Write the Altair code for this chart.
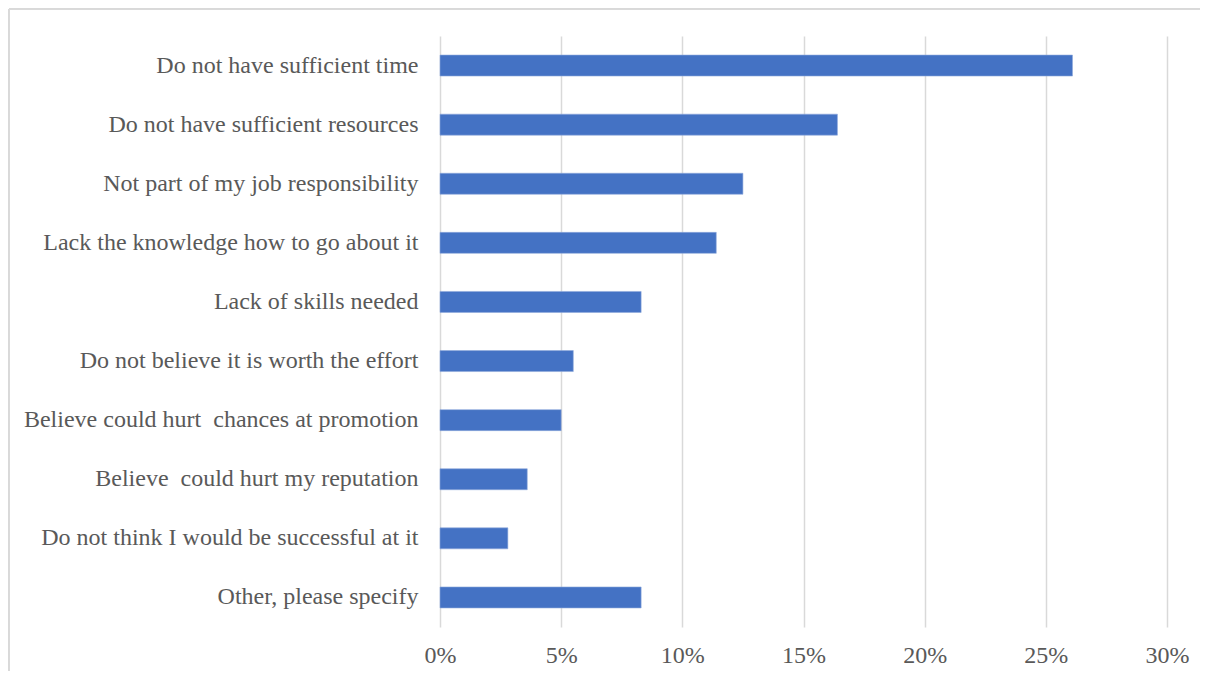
import altair as alt
import pandas as pd

categories = [
    "Do not have sufficient time",
    "Do not have sufficient resources",
    "Not part of my job responsibility",
    "Lack the knowledge how to go about it",
    "Lack of skills needed",
    "Do not believe it is worth the effort",
    "Believe could hurt\u00a0 chances at promotion",
    "Believe\u00a0 could hurt my reputation",
    "Do not think I would be successful at it",
    "Other, please specify",
]
values = [0.261, 0.164, 0.125, 0.114, 0.083, 0.055, 0.050, 0.036, 0.028, 0.083]
tick_values = [0, 0.05, 0.10, 0.15, 0.20, 0.25, 0.30]

df = pd.DataFrame({"reason": categories, "share": values})

FONT = "Liberation Serif"
GRAY = "#595959"

bars = alt.Chart(df).mark_bar(color="#4472C4", stroke="#8eaadb", strokeWidth=0.6).encode(
    x=alt.X(
        "share:Q",
        scale=alt.Scale(domain=[0, 0.3], nice=False),
        axis=alt.Axis(
            values=tick_values,
            format=".0%",
            title=None,
            grid=True,
            gridColor="#d9d9d9",
            gridWidth=1.5,
            ticks=False,
            domain=False,
            labelFlush=False,
            labelFont=FONT,
            labelFontSize=24,
            labelColor=GRAY,
            labelPadding=16,
        ),
    ),
    y=alt.Y(
        "reason:N",
        sort=categories,
        scale=alt.Scale(paddingInner=0.645, paddingOuter=0.3225),
        axis=alt.Axis(
            title=None,
            ticks=False,
            domain=False,
            grid=False,
            labelFont=FONT,
            labelFontSize=24,
            labelColor=GRAY,
            labelPadding=22,
            labelLimit=500,
        ),
    ),
)

border_top = alt.Chart(df).mark_rule(color="#d9d9d9", strokeWidth=1.5).encode(
    x=alt.value(-431), x2=alt.value(800), y=alt.value(-27.25)
)
border_left = alt.Chart(df).mark_rule(color="#d9d9d9", strokeWidth=1.5).encode(
    x=alt.value(-431.25), y=alt.value(-27), y2=alt.value(700)
)

chart = alt.layer(bars, border_top, border_left).properties(
    width=727,
    height=591,
    autosize=alt.AutoSizeParams(type="none"),
    padding={"left": 432, "top": 28, "right": 33, "bottom": 44},
).configure_view(stroke=None)

chart.save("out.html", embed_options={"renderer": "svg", "actions": False})
